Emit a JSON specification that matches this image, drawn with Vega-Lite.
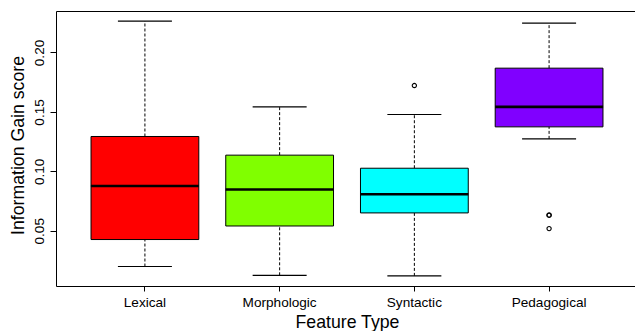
{
  "$schema": "https://vega.github.io/schema/vega-lite/v6.json",
  "autosize": "none",
  "width": 582,
  "height": 275,
  "padding": {"left": 56, "top": 11, "right": 0, "bottom": 45},
  "background": "white",
  "config": {
    "view": {"stroke": "black", "strokeWidth": 1},
    "font": "Liberation Sans"
  },
  "datasets": {
    "boxes": [
      {"type": "Lexical", "lo": 0.0199, "q1": 0.0426, "med": 0.0877, "q3": 0.1293, "hi": 0.2263},
      {"type": "Morphologic", "lo": 0.0125, "q1": 0.054, "med": 0.0847, "q3": 0.1136, "hi": 0.1542},
      {"type": "Syntactic", "lo": 0.012, "q1": 0.065, "med": 0.0807, "q3": 0.1026, "hi": 0.1478},
      {"type": "Pedagogical", "lo": 0.1273, "q1": 0.1374, "med": 0.1542, "q3": 0.1868, "hi": 0.2247}
    ],
    "outliers": [
      {"type": "Syntactic", "value": 0.1722},
      {"type": "Pedagogical", "value": 0.0633},
      {"type": "Pedagogical", "value": 0.0629},
      {"type": "Pedagogical", "value": 0.0518}
    ]
  },
  "encoding": {
    "x": {
      "field": "type",
      "type": "nominal",
      "sort": ["Lexical", "Morphologic", "Syntactic", "Pedagogical"],
      "scale": {"paddingInner": 0, "paddingOuter": 0.16},
      "axis": {
        "title": "Feature Type",
        "titleFontSize": 17.7,
        "titleFont": "Liberation Sans",
        "titleFontWeight": "normal",
        "titleColor": "black",
        "titleBaseline": "alphabetic",
        "titleY": 41.5,
        "labelAngle": 0,
        "labelFontSize": 13.6,
        "labelFont": "Liberation Sans",
        "labelColor": "black",
        "labelBaseline": "top",
        "labelPadding": 4,
        "tickSize": 5,
        "tickColor": "black",
        "bandPosition": 0.5,
        "domain": false,
        "grid": false
      }
    }
  },
  "layer": [
    {
      "data": {"name": "boxes"},
      "mark": {"type": "rule", "strokeDash": [3, 2], "color": "black", "strokeWidth": 1},
      "encoding": {
        "y": {
          "field": "lo",
          "type": "quantitative",
          "scale": {"domain": [0.0035, 0.2349], "nice": false, "zero": false},
          "axis": {
            "title": "Information Gain score",
            "titleFontSize": 17.7,
            "titleFont": "Liberation Sans",
            "titleFontWeight": "normal",
            "titleColor": "black",
            "titleBaseline": "alphabetic",
            "titleX": -32.5,
            "titleY": 134,
            "values": [0.05, 0.1, 0.15, 0.2],
            "format": ".2f",
            "labelAngle": -90,
            "labelAlign": "center",
            "labelBaseline": "alphabetic",
            "labelFontSize": 13.6,
            "labelFont": "Liberation Sans",
            "labelColor": "black",
            "labelPadding": 7,
            "tickSize": 6,
            "tickColor": "black",
            "domain": false,
            "grid": false
          }
        },
        "y2": {"field": "q1"}
      }
    },
    {
      "data": {"name": "boxes"},
      "mark": {"type": "rule", "strokeDash": [3, 2], "color": "black", "strokeWidth": 1},
      "encoding": {
        "y": {"field": "q3", "type": "quantitative"},
        "y2": {"field": "hi"}
      }
    },
    {
      "data": {"name": "boxes"},
      "mark": {"type": "tick", "color": "black", "size": 54, "thickness": 1.2, "opacity": 1},
      "encoding": {"y": {"field": "lo", "type": "quantitative"}}
    },
    {
      "data": {"name": "boxes"},
      "mark": {"type": "tick", "color": "black", "size": 54, "thickness": 1.2, "opacity": 1},
      "encoding": {"y": {"field": "hi", "type": "quantitative"}}
    },
    {
      "data": {"name": "boxes"},
      "mark": {"type": "bar", "width": {"band": 0.8}, "stroke": "black", "strokeWidth": 1, "opacity": 1},
      "encoding": {
        "y": {"field": "q1", "type": "quantitative"},
        "y2": {"field": "q3"},
        "color": {
          "field": "type",
          "type": "nominal",
          "scale": {"domain": ["Lexical", "Morphologic", "Syntactic", "Pedagogical"], "range": ["#FF0000", "#80FF00", "#00FFFF", "#8000FF"]},
          "legend": null
        }
      }
    },
    {
      "data": {"name": "boxes"},
      "mark": {"type": "tick", "color": "black", "size": 108, "thickness": 2.6, "opacity": 1},
      "encoding": {"y": {"field": "med", "type": "quantitative"}}
    },
    {
      "data": {"name": "outliers"},
      "mark": {"type": "point", "shape": "circle", "filled": false, "stroke": "black", "strokeWidth": 1.1, "size": 18, "opacity": 1},
      "encoding": {"y": {"field": "value", "type": "quantitative"}}
    }
  ]
}
